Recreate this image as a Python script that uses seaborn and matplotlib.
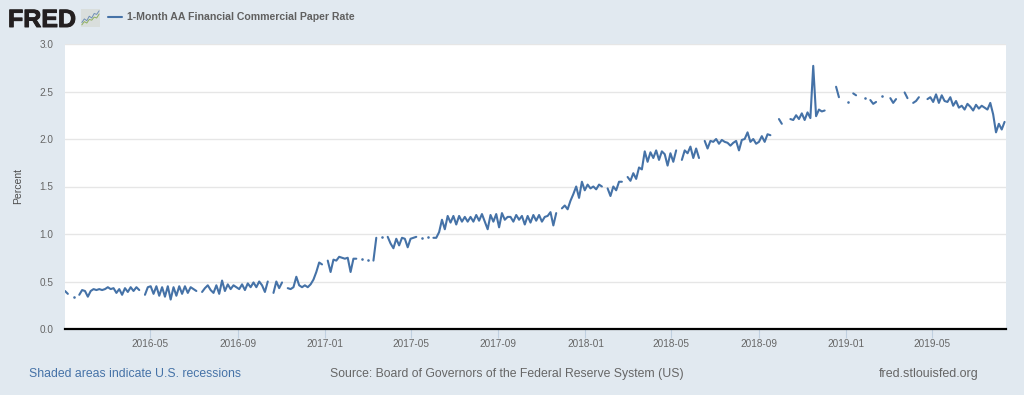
import numpy as np
import pandas as pd
import matplotlib
matplotlib.use('Agg')
import matplotlib.pyplot as plt
import matplotlib.patheffects as pe
from matplotlib.lines import Line2D
import seaborn as sns

n = np.nan

# values, one every 4 days, nan = gap in the series
rate_2016 = [.40, .37, n, .34, n, .36, .41, .40, .34, .40, .42, .41, .42,
             .41, .42, .44, .42, .43, .38, .42, .36, .43, .39, .44, .40, .44,
             .41, n, .36, .44, .45, .37, .45, .35, .44, .34, .45, .31, .44,
             .35, .45, .37, .45, .38, .44, .42, .40, n, .39, .43, .46, .41,
             .38, .46, .37, .51, .40, .47, .42, .46, .44, .42, .47, .41, .48,
             .44, .49, .44, .50, .46, .39, .50, n, .38, .50, .43, .49, n,
             .43, .42, .44, .55, .46, .44, .46, .44, .47, .52, .60, .70, .68]
rate_2017 = [n, .72, .60, .73, .72, .76, .75, .74, .75, .60, .74, .74, n,
             .74, n, .73, n, .72, .96, n, .97, n, .97, .90, .85, .95,
             .88, .96, .95, .86, .95, .96, .97, n, .96, n, .97, n, .96,
             .96, 1.02, 1.15, 1.05, 1.19, 1.12, 1.19, 1.10, 1.19, 1.13, 1.18, 1.13, 1.18,
             1.13, 1.20, 1.14, 1.21, 1.13, 1.05, 1.20, 1.13, 1.21, 1.07, 1.22, 1.15, 1.18,
             1.18, 1.13, 1.20, 1.15, 1.19, 1.10, 1.19, 1.12, 1.20, 1.14, 1.20, 1.13, 1.18,
             1.19, 1.23, 1.09, 1.22, n, 1.27, 1.30, 1.26, 1.35, 1.42, 1.50, 1.38, 1.55]
rate_2018 = [1.46, 1.52, 1.48, 1.50, 1.47, 1.52, 1.50, n, 1.48, 1.40, 1.50, 1.46, 1.55,
             1.55, n, 1.60, 1.56, 1.64, 1.58, 1.70, 1.68, 1.87, 1.76, 1.86, 1.80, 1.88,
             1.78, 1.87, 1.84, 1.72, 1.85, 1.76, 1.88, n, 1.78, 1.88, 1.85, 1.92, 1.80,
             1.90, 1.80, n, 1.98, 1.90, 1.98, 1.97, 2.00, 1.95, 1.99, 1.97, 1.96, 1.93,
             1.96, 1.98, 1.88, 1.99, 2.00, 2.07, 1.97, 2.00, 1.95, 1.97, 2.03, 1.97, 2.05,
             2.04, n, n, 2.21, 2.16, n, n, 2.21, 2.20, 2.25, 2.21, 2.27, 2.20,
             2.28, 2.22, 2.77, 2.24, 2.31, 2.29, 2.30, n, n, n, 2.55, 2.44, n]
rate_2019 = [n, 2.39, n, 2.48, 2.46, n, n, 2.43, n, 2.41, 2.37, 2.39, n,
             2.45, n, n, 2.43, 2.38, 2.42, n, n, 2.49, 2.43, n, 2.38, 2.40,
             2.44, n, n, 2.42, 2.44, 2.39, 2.47, 2.38, 2.46, 2.40, 2.39, 2.44, 2.35,
             2.40, 2.33, 2.35, 2.31, 2.37, 2.34, 2.30, 2.36, 2.32, 2.35, 2.33, 2.31, 2.38,
             2.26, 2.07, 2.16, 2.10, 2.18]

tick_labels = ['2016-05', '2016-09', '2017-01', '2017-05', '2017-09',
               '2018-01', '2018-05', '2018-09', '2019-01', '2019-05']
y_ticks = [0.0, 0.5, 1.0, 1.5, 2.0, 2.5, 3.0]

# little chart in the FRED logo
icon_blue = [.25, .45, .35, .6, .5, .75, .7, .9]
icon_green = [.12, .3, .22, .42, .38, .55, .5, .72]

rates = rate_2016 + rate_2017 + rate_2018 + rate_2019
df = pd.DataFrame({'date': pd.date_range('2016-01-03', periods=len(rates), freq='4D'),
                   'rate': rates})
# number the runs between gaps so lines do not join across them
df['run'] = df['rate'].isna().cumsum()
df = df.dropna()
sizes = df.groupby('run')['rate'].transform('size')

BG = '#e1e9f0'
BLUE = '#4572a7'
W, H = 1024, 395

sns.set_theme(style='white')
plt.rcParams['font.family'] = ['Liberation Sans', 'DejaVu Sans']

fig = plt.figure(figsize=(W / 100, H / 100), dpi=100, facecolor=BG)
ax = fig.add_axes([65 / W, 1 - 329 / H, (1006 - 65) / W, (329 - 44) / H])

sns.lineplot(data=df, x='date', y='rate', units='run', estimator=None,
             color=BLUE, lw=1.5, ax=ax, legend=False, solid_joinstyle='round')
sns.scatterplot(data=df[sizes == 1], x='date', y='rate', color=BLUE, s=3.5,
                linewidth=0, ax=ax, legend=False)

ax.set_xlim(pd.Timestamp('2016-01-03'), pd.Timestamp('2019-08-13'))
ax.set_ylim(0, 3)
ax.set_yticks(y_ticks)
ax.set_yticklabels([f'{v:.1f}' for v in y_ticks])
ax.set_xticks(pd.to_datetime(tick_labels))
ax.set_xticklabels(tick_labels)
ax.grid(axis='y', color='#e6e6e6', lw=1)
ax.set_axisbelow(True)
ax.set_facecolor('white')
ax.set_xlabel('')
ax.set_ylabel('Percent', fontsize=7.5, color='#4d4d4d', labelpad=11.5)
ax.tick_params(axis='x', length=6.5, width=.8, color='#c0d0e0', labelsize=7.2,
               labelcolor='#666666', pad=1, bottom=True)
ax.tick_params(axis='y', length=0, labelsize=7.2, labelcolor='#666666', pad=8.5)
sns.despine(ax=ax, left=True, top=True, right=True)
ax.spines['bottom'].set_color('black')
ax.spines['bottom'].set_linewidth(1.6)

# header
fig.text(8 / W, 1 - 27 / H, 'FRED', fontsize=18, fontweight='bold', color='#231f20',
         va='baseline', ha='left',
         path_effects=[pe.withStroke(linewidth=.7, foreground='#231f20')])
icon = fig.add_axes([81 / W, 1 - 27 / H, 19 / W, 18 / H], facecolor='#d9dedc')
icon.plot(icon_green, color='#8fb060', lw=.7)
icon.plot(icon_blue, color='#6f8fb5', lw=.7)
icon.set_ylim(0, 1)
icon.set_xticks([])
icon.set_yticks([])
for s in icon.spines.values():
    s.set_visible(False)

fig.legend(handles=[Line2D([], [], color=BLUE, lw=1.5)],
           labels=['1-Month AA Financial Commercial Paper Rate'],
           loc='center left', bbox_to_anchor=(108 / W, 1 - 17.5 / H), frameon=False,
           prop={'size': 7.55, 'weight': 'bold'}, labelcolor='#606060',
           handlelength=1.35, handletextpad=.5, borderpad=0, borderaxespad=0)

# footer
fig.text(29 / W, 1 - 374 / H, 'Shaded areas indicate U.S. recessions', fontsize=8.8,
         color='#4572a7', va='center')
fig.text(330 / W, 1 - 374 / H, 'Source: Board of Governors of the Federal Reserve System (US)',
         fontsize=8.85, color='#666666', va='center')
fig.text(979 / W, 1 - 374 / H, 'fred.stlouisfed.org', fontsize=9, color='#666666',
         va='center', ha='right')

fig.savefig('out.png', dpi=100, facecolor=BG)
